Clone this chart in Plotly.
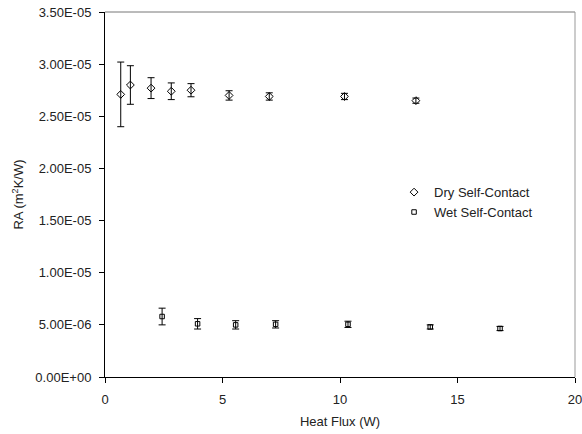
import plotly.graph_objects as go

dry_x = [0.67, 1.08, 1.96, 2.82, 3.66, 5.28, 6.99, 10.19, 13.23]
dry_y = [2.71e-05, 2.80e-05, 2.77e-05, 2.74e-05, 2.75e-05, 2.70e-05, 2.69e-05, 2.69e-05, 2.65e-05]
dry_err = [3.1e-06, 1.85e-06, 1.0e-06, 0.8e-06, 0.63e-06, 0.45e-06, 0.35e-06, 0.3e-06, 0.25e-06]

wet_x = [2.43, 3.94, 5.56, 7.26, 10.34, 13.84, 16.81]
wet_y = [5.8e-06, 5.1e-06, 5.0e-06, 5.05e-06, 5.05e-06, 4.8e-06, 4.65e-06]
wet_err = [0.8e-06, 0.5e-06, 0.4e-06, 0.35e-06, 0.3e-06, 0.2e-06, 0.2e-06]

y_tickvals = [0, 5e-06, 1e-05, 1.5e-05, 2e-05, 2.5e-05, 3e-05, 3.5e-05]
y_ticktext = ["0.00E+00", "5.00E-06", "1.00E-05", "1.50E-05", "2.00E-05", "2.50E-05", "3.00E-05", "3.50E-05"]
x_tickvals = [0, 5, 10, 15, 20]

FONT = "Liberation Sans, Arial, sans-serif"
TXT = "#222222"

fig = go.Figure()
fig.add_trace(go.Scatter(
    x=dry_x, y=dry_y, mode="markers", name="Dry Self-Contact",
    marker=dict(symbol="diamond-open", size=6, color="black", line=dict(width=1, color="black")),
    error_y=dict(type="data", array=dry_err, visible=True, color="black", thickness=1, width=3.5),
))
fig.add_trace(go.Scatter(
    x=wet_x, y=wet_y, mode="markers", name="Wet Self-Contact",
    marker=dict(symbol="square-open", size=4.5, color="black", line=dict(width=1, color="black")),
    error_y=dict(type="data", array=wet_err, visible=True, color="black", thickness=1, width=3.5),
))

fig.update_layout(
    width=582, height=434,
    margin=dict(l=105, r=7, t=12, b=57, autoexpand=False),
    paper_bgcolor="white", plot_bgcolor="white",
    font=dict(family=FONT, size=13, color=TXT),
    showlegend=True,
    legend=dict(x=0.615, y=0.479, xanchor="left", yanchor="middle",
                bgcolor="rgba(0,0,0,0)", font=dict(size=13, color=TXT),
                itemwidth=30, tracegroupgap=0),
    xaxis=dict(range=[0, 20.0001], tickvals=x_tickvals, showgrid=False, zeroline=False,
               showline=True, linecolor="black", linewidth=1, automargin=False,
               ticks="outside", ticklen=5, tickcolor="black", ticklabeloverflow="allow",
               ticklabelstandoff=5,
               title=dict(text="Heat Flux (W)", standoff=11, font=dict(size=13, color=TXT))),
    yaxis=dict(range=[0, 3.5e-05], tickvals=y_tickvals, ticktext=y_ticktext, showgrid=False,
               zeroline=False, showline=True, linecolor="black", linewidth=1, automargin=False,
               ticks="outside", ticklen=5, tickcolor="black", ticklabelstandoff=5,
               title=dict(text="RA (m<sup>2</sup>K/W)", standoff=8, font=dict(size=13, color=TXT))),
    shapes=[
        dict(type="line", xref="paper", yref="paper", x0=0, x1=1, y0=1, y1=1,
             line=dict(color="#777777", width=1)),
        dict(type="line", xref="paper", yref="paper", x0=1, x1=1, y0=0, y1=1,
             line=dict(color="#999999", width=1)),
    ],
)

fig.write_html("out.html", config={"displayModeBar": False},
               post_script="document.body.style.margin='0';document.body.style.overflow='hidden';")
